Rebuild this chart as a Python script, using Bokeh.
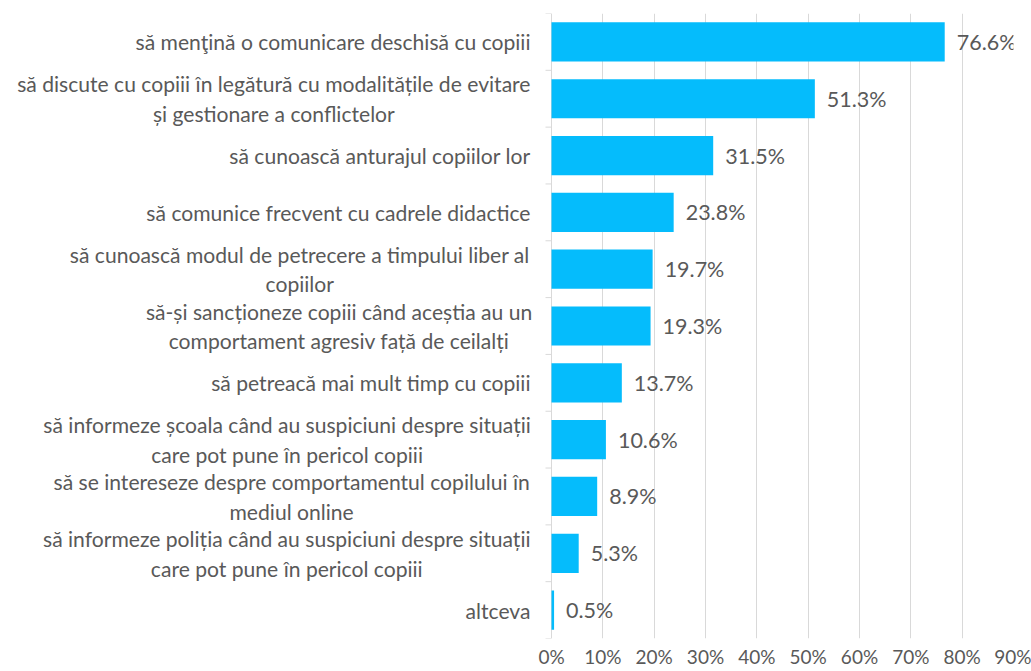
from bokeh.plotting import figure
from bokeh.models import ColumnDataSource, Range1d, FixedTicker
from bokeh.embed import file_html
from bokeh.resources import INLINE
from bokeh.core.properties import value

# ---------------- data ----------------
categories = [
    "să menţină o comunicare deschisă cu copiii",
    "să discute cu copiii în legătură cu modalitățile de evitare\nși gestionare a conflictelor",
    "să cunoască anturajul copiilor lor",
    "să comunice frecvent cu cadrele didactice",
    "să cunoască modul de petrecere a timpului liber al\ncopiilor",
    "să-și sancționeze copiii când aceștia au un\ncomportament agresiv față de ceilalți",
    "să petreacă mai mult timp cu copiii",
    "să informeze școala când au suspiciuni despre situații\ncare pot pune în pericol copiii",
    "să se intereseze despre comportamentul copilului în\nmediul online",
    "să informeze poliția când au suspiciuni despre situații\ncare pot pune în pericol copiii",
    "altceva",
]
values = [76.6, 51.3, 31.5, 23.8, 19.7, 19.3, 13.7, 10.6, 8.9, 5.3, 0.5]
x_ticks = [0, 10, 20, 30, 40, 50, 60, 70, 80, 90]
x_tick_labels = ["0%", "10%", "20%", "30%", "40%", "50%", "60%", "70%", "80%", "90%"]

# ---------------- style ----------------
FONT = "Lato"
BAR = "#05BCFC"
TXT = "#595959"
GRID = "#D9D9D9"
CAT_SIZE = 21.1
VAL_SIZE = 21.5
TICK_SIZE = 19

W, H = 1031, 671
B_LEFT, B_RIGHT, B_TOP, B_BOTTOM = 551, 18, 13, 33
frame_w = W - B_LEFT - B_RIGHT
px_per_unit = frame_w / (x_ticks[-1] - x_ticks[0])
LABEL_GAP = 21   # px between category label right edge and the axis
TICK_LEN = 6     # px, category boundary tick marks

# approximate glyph advance widths (em) used to centre wrapped labels
EM = {"a": .479, "b": .525, "c": .423, "d": .525, "e": .498, "f": .305, "g": .471,
      "h": .525, "i": .229, "j": .239, "k": .455, "l": .229, "m": .799, "n": .525,
      "o": .527, "p": .525, "q": .525, "r": .349, "s": .391, "t": .335, "u": .525,
      "v": .452, "w": .715, "x": .433, "y": .453, "z": .395, " ": .226, "-": .306}
BASE = {"ă": "a", "â": "a", "î": "i", "ș": "s", "ş": "s", "ț": "t", "ţ": "t"}
EM_PX = 22.55


def text_width(s):
    return sum(EM.get(BASE.get(ch, ch), 0.5) for ch in s) * EM_PX


n = len(categories)
ys = list(range(n))

p = figure(width=W, height=H, output_backend="svg", toolbar_location=None,
           x_range=Range1d(x_ticks[0] - B_LEFT / px_per_unit, x_ticks[-1]),
           y_range=Range1d(n - 0.5, -0.5), y_axis_location=None,
           min_border_left=0, min_border_right=B_RIGHT,
           min_border_top=B_TOP, min_border_bottom=B_BOTTOM)
p.outline_line_color = None
p.background_fill_color = "white"
p.border_fill_color = "white"

src = ColumnDataSource(dict(y=ys, v=values, lbl=[f"{v:.1f}%" for v in values]))
p.hbar(y="y", left=0, right="v", height=0.69, fill_color=BAR, line_color=None, source=src)
p.text(x="v", y="y", text="lbl", x_offset=12, text_baseline="middle", text_align="left",
       text_font=value(FONT), text_font_size=f"{VAL_SIZE}px", text_color=TXT, source=src)

# x axis
p.xaxis.ticker = FixedTicker(ticks=x_ticks)
p.xaxis.major_label_overrides = {t: l for t, l in zip(x_ticks, x_tick_labels)}
p.xaxis.axis_line_color = None
p.xaxis.major_tick_line_color = None
p.xaxis.major_tick_out = 0
p.xaxis.major_tick_in = 0
p.xaxis.minor_tick_line_color = None
p.xaxis.minor_tick_out = 0
p.xaxis.major_label_standoff = 6
p.xaxis.major_label_text_font = FONT
p.xaxis.major_label_text_font_size = f"{TICK_SIZE}px"
p.xaxis.major_label_text_color = TXT
p.xgrid.ticker = FixedTicker(ticks=x_ticks)
p.xgrid.grid_line_color = GRID
p.ygrid.grid_line_color = None

# category boundary ticks on the left of the value axis
bounds = [i - 0.5 for i in range(n + 1)]
p.segment(x0=[-TICK_LEN / px_per_unit] * len(bounds), x1=[0] * len(bounds),
          y0=bounds, y1=bounds, line_color=GRID, line_width=1)

# category labels (single line: right aligned; wrapped: lines centred)
single = dict(x=[], y=[], t=[])
multi = dict(x=[], y=[], t=[])
for i, c in enumerate(categories):
    lines = c.split("\n")
    if len(lines) == 1:
        single["x"].append(-LABEL_GAP / px_per_unit)
        single["y"].append(i)
        single["t"].append(c)
    else:
        wmax = max(text_width(l) for l in lines)
        multi["x"].append(-(LABEL_GAP + wmax / 2) / px_per_unit)
        multi["y"].append(i)
        multi["t"].append(c)

common = dict(text_font=value(FONT), text_font_size=f"{CAT_SIZE}px", text_color=TXT,
              text_baseline="middle", text_line_height=1.18)
p.text(x="x", y="y", text="t", source=ColumnDataSource(single), text_align="right", **common)
p.text(x="x", y="y", text="t", source=ColumnDataSource(multi), text_align="center", **common)

open("out.html", "w").write(file_html(p, INLINE))
